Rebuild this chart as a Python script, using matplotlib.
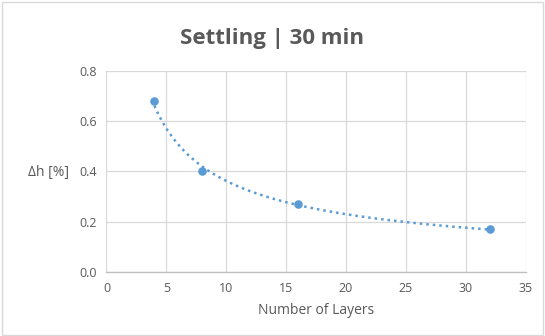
import numpy as np
import matplotlib
matplotlib.use("Agg")
import matplotlib.pyplot as plt
from matplotlib.patches import Rectangle

plt.rcParams['font.family'] = ['Open Sans', 'DejaVu Sans']

layers = [4, 8, 16, 32]
delta_h = [0.68, 0.40, 0.27, 0.17]
x_ticks = [0, 5, 10, 15, 20, 25, 30, 35]
y_ticks = [0.0, 0.2, 0.4, 0.6, 0.8]

blue = '#5B9BD5'
text_gray = '#595959'
grid_gray = '#D9D9D9'

fig = plt.figure(figsize=(5.45, 3.36), dpi=100)
fig.patches.append(Rectangle((0.004, 0.004), 0.992, 0.99, transform=fig.transFigure,
                             fill=False, edgecolor='#D9D9D9', linewidth=1.0))

ax = fig.add_axes([0.1954, 0.1905, 0.7692, 0.5982])

# power trendline fitted to the measured points
b, log_a = np.polyfit(np.log(layers), np.log(delta_h), 1)
xs = np.linspace(min(layers), max(layers), 200)
ax.plot(xs, np.exp(log_a) * xs ** b, linestyle=(0, (1, 1.6)), color=blue, linewidth=1.8, zorder=2)
ax.scatter(layers, delta_h, s=38, color=blue, zorder=3, linewidths=0)

ax.set_xlim(0, 35)
ax.set_ylim(0, 0.8)
ax.set_xticks(x_ticks)
ax.set_yticks(y_ticks)
ax.set_yticklabels([f"{v:.1f}" for v in y_ticks])
ax.grid(True, color=grid_gray, linewidth=0.9)
ax.set_axisbelow(True)
for side in ['top', 'right', 'left']:
    ax.spines[side].set_visible(False)
ax.spines['bottom'].set_color('#BFBFBF')
ax.spines['bottom'].set_linewidth(1.0)
ax.tick_params(axis='both', length=0, labelsize=9, labelcolor=text_gray, pad=7)

ax.set_xlabel('Number of Layers', fontsize=10, color=text_gray, labelpad=6)
fig.text(0.127, 0.488, 'Δh [%]', ha='right', va='center', fontsize=10, color=text_gray)

fig.text(0.5, 0.886, 'Settling | 30 min', ha='center', va='center', fontsize=16,
         fontweight='bold', color=text_gray)

fig.savefig('out.png', dpi=100)
